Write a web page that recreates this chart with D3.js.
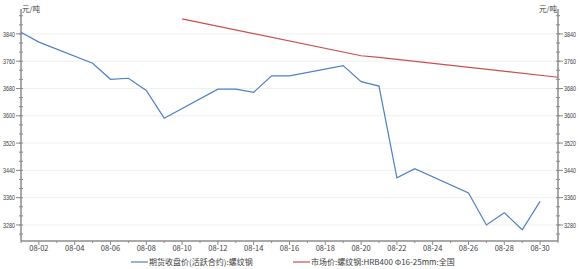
<!DOCTYPE html>
<meta charset="utf-8">
<script src="https://d3js.org/d3.v7.min.js"></script>
<style>
  body { margin: 0; background: #fff; }
  text { font-family: "Noto Sans CJK SC", "DejaVu Sans", sans-serif; }
  text.num { font-family: "Liberation Sans", sans-serif; }
</style>
<div id="chart"></div>
<script>

// data (day of August -> value)
var futDays = [1, 2, 5, 6, 7, 8, 9, 12, 13, 14, 15, 16, 19, 20, 21, 22, 23, 26, 27, 28, 29, 30]
var futVals = [3845, 3816, 3754, 3707, 3710, 3674, 3593, 3678, 3678, 3669, 3717, 3717, 3747, 3700, 3687, 3418, 3445, 3374, 3280, 3316, 3266, 3349]
var spotDays = [10, 20, 21, 31]
var spotVals = [3884, 3776, 3771, 3713]
var yTicks = [3280, 3360, 3440, 3520, 3600, 3680, 3760, 3840]
var xLabelDays = [2, 4, 6, 8, 10, 12, 14, 16, 18, 20, 22, 24, 26, 28, 30]
var seriesNames = ["期货收盘价(活跃合约):螺纹钢", "市场价:螺纹钢:HRB400 Φ16-25mm:全国"]
var unit = "元/吨"

var W = 582, H = 269
var margin = {top: 9, right: 24, bottom: 28, left: 21}
var width = W - margin.left - margin.right,
    height = H - margin.top - margin.bottom

var svg = d3.select("#chart").append("svg")
    .attr("width", W).attr("height", H)
var g = svg.append("g")
    .attr("transform", "translate(" + margin.left + "," + margin.top + ")")

var x = d3.scaleLinear().domain([1, 31]).range([0, width])
var y = d3.scaleLinear().domain([3233, 3913]).range([height, 0])

var axisColor = "#8c8c8c", textColor = "#404040"

// grid lines
g.selectAll(".grid").data(yTicks).enter().append("line")
  .attr("x1", 0).attr("x2", width)
  .attr("y1", function(d) { return y(d) }).attr("y2", function(d) { return y(d) })
  .attr("stroke", "#efefef").attr("stroke-width", 1)

// minor y ticks, 3 per major step
var minor = d3.range(-2, 26).map(function(i) { return 3280 + i * 80 / 3 })
  .filter(function(v) { return v > 3233 && v < 3913 })

function yAxis(side) {
  var xp = side == "left" ? 0 : width
  var dir = side == "left" ? -1 : 1
  var ag = g.append("g")
  ag.append("line").attr("x1", xp).attr("x2", xp).attr("y1", 0).attr("y2", height)
    .attr("stroke", axisColor).attr("stroke-width", 1.5)
  ag.selectAll(".mn").data(minor).enter().append("line")
    .attr("x1", xp - 2).attr("x2", xp + 2)
    .attr("y1", function(d) { return y(d) }).attr("y2", function(d) { return y(d) })
    .attr("stroke", axisColor)
  ag.selectAll(".mj").data(yTicks).enter().append("line")
    .attr("x1", xp).attr("x2", xp + dir * 5)
    .attr("y1", function(d) { return y(d) }).attr("y2", function(d) { return y(d) })
    .attr("stroke", axisColor)
  ag.selectAll(".lb").data(yTicks).enter().append("text")
    .attr("class", "num")
    .attr("x", side == "left" ? xp - 18 : xp + 6)
    .attr("y", function(d) { return y(d) })
    .attr("dy", "0.35em")
    .attr("textLength", 12).attr("lengthAdjust", "spacingAndGlyphs")
    .attr("font-size", 7.5).attr("fill", textColor)
    .text(function(d) { return d })
  ag.append("text")
    .attr("x", side == "left" ? xp + 1 : xp - 1).attr("y", 3)
    .attr("text-anchor", side == "left" ? "start" : "end")
    .attr("font-size", 7.5).attr("fill", textColor)
    .text(unit)
}
yAxis("left")
yAxis("right")

// x axis
var xg = g.append("g").attr("transform", "translate(0," + height + ")")
xg.append("line").attr("x1", 0).attr("x2", width).attr("stroke", axisColor).attr("stroke-width", 1.5)
xg.selectAll(".xt").data(d3.range(1, 32)).enter().append("line")
  .attr("x1", function(d) { return x(d) }).attr("x2", function(d) { return x(d) })
  .attr("y1", 0).attr("y2", function(d) { return d % 2 == 0 ? 4 : 2 })
  .attr("stroke", axisColor)
xg.selectAll(".xl").data(xLabelDays).enter().append("text")
  .attr("x", function(d) { return x(d) }).attr("y", 10)
  .attr("text-anchor", "middle").attr("font-size", 7.5).attr("fill", textColor)
  .text(function(d) { return "08-" + (d < 10 ? "0" + d : d) })

// lines
var line = d3.line()
  .x(function(d) { return x(d[0]) })
  .y(function(d) { return y(d[1]) })

g.append("path")
  .datum(d3.zip(spotDays, spotVals))
  .attr("d", line).attr("fill", "none")
  .attr("stroke", "#c9504e").attr("stroke-width", 1.2)

g.append("path")
  .datum(d3.zip(futDays, futVals))
  .attr("d", line).attr("fill", "none")
  .attr("stroke", "#4f81c4").attr("stroke-width", 1.2)

// legend
var leg = svg.append("g").attr("transform", "translate(0,262)")
var items = [{x: 131, color: "#4f81c4", name: seriesNames[0]},
             {x: 293, color: "#c9504e", name: seriesNames[1]}]
items.forEach(function(it) {
  leg.append("line").attr("x1", it.x).attr("x2", it.x + 17)
    .attr("stroke", it.color).attr("stroke-width", 1.2)
  leg.append("text").attr("x", it.x + 18).attr("dy", "0.35em")
    .attr("font-size", 8).attr("fill", textColor).text(it.name)
})

</script>
